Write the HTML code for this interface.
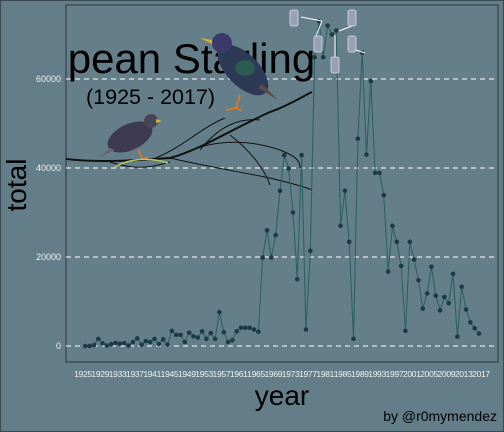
<!DOCTYPE html>
<html><head><meta charset="utf-8"><style>
html,body{margin:0;padding:0;background:#637e89;}
svg{display:block;font-family:"Liberation Sans",sans-serif;}
</style></head><body>
<svg id="chart" width="504" height="432" viewBox="0 0 504 432">
<rect x="0" y="0" width="504" height="432" fill="#637e89" stroke="#3a4a52" stroke-width="2"/>
<defs><clipPath id="pc"><rect x="66" y="5" width="432" height="357"/></clipPath></defs>
<rect x="66" y="5" width="432" height="357" fill="#657f8a" stroke="#2b363c" stroke-width="1"/>
<g id="grid"></g>
<g clip-path="url(#pc)">
  <g fill="none" stroke="#111" stroke-width="1">
    <path d="M66 159 C100 163 140 160 170 158 C200 150 230 130 270 112 C290 105 305 95 312 92" stroke-width="2"/>
    <path d="M150 160 C180 150 200 128 225 118"/>
    <path d="M170 158 C200 165 240 172 270 178 C285 182 300 185 312 190"/>
    <path d="M180 155 C210 140 245 138 280 150 C295 156 300 160 300 168"/>
    <path d="M200 150 C220 125 240 118 260 120"/>
    <path d="M230 135 C250 150 265 170 270 185"/>
    <path d="M110 162 C135 170 150 168 170 162"/>
  </g>
  <path d="M115 167 C130 158 150 157 168 163" stroke="#b8c860" stroke-width="1.5" fill="none"/>
  <g>
    <ellipse cx="130" cy="137" rx="24" ry="13" fill="#3d3a52" transform="rotate(-25 130 137)"/>
    <path d="M110 148 L98 158 L115 150 Z" fill="#6a6470"/>
    <circle cx="151" cy="121" r="7" fill="#4a4458"/>
    <path d="M156 119 L162 121 L156 123 Z" fill="#e0b020"/>
    <path d="M138 150 L142 158 L148 158" stroke="#e07820" stroke-width="1.5" fill="none"/>
  </g>
  <text x="-21" y="73" font-size="42" fill="#000">European Starling</text>
  <text x="86" y="104" font-size="21.5" fill="#000">(1925 - 2017)</text>
  <g>
    <ellipse cx="243" cy="70" rx="32" ry="16" fill="#2e3a55" transform="rotate(45 243 70)"/>
    <path d="M258 88 L278 100 L262 84 Z" fill="#5a4a48"/>
    <circle cx="222" cy="43" r="10" fill="#3c3a6a"/>
    <path d="M212 40 L200 38 L212 44 Z" fill="#e0b020"/>
    <path d="M240 95 L236 108 L226 110 M236 108 L242 111" stroke="#e07820" stroke-width="1.8" fill="none"/>
    <ellipse cx="245" cy="68" rx="10" ry="8" fill="#2f6a50" opacity="0.7"/>
  </g>
</g>
<g id="series"></g>
<g fill="#9aa1b6" stroke="#d8dce6" stroke-width="0.8">
  <line x1="301" y1="17" x2="322" y2="21" stroke="#fff" stroke-width="1"/>
  <rect x="290" y="10" width="8" height="16" rx="2"/>
  <line x1="322" y1="21" x2="316" y2="36" stroke="#fff" stroke-width="1"/>
  <rect x="314" y="36" width="8" height="16" rx="2"/>
  <line x1="335" y1="35" x2="335" y2="57" stroke="#fff" stroke-width="1"/>
  <rect x="331" y="57" width="8" height="16" rx="2"/>
  <line x1="339" y1="31" x2="352" y2="26" stroke="#fff" stroke-width="1"/>
  <rect x="348" y="10" width="8" height="16" rx="2"/>
  <line x1="356" y1="50" x2="365" y2="53" stroke="#fff" stroke-width="1"/>
  <rect x="348" y="36" width="8" height="16" rx="2"/>
</g>
<g id="axes"></g>
<text x="282" y="405" font-size="28" text-anchor="middle" fill="#000">year</text>
<text transform="translate(26 185) rotate(-90)" font-size="28" text-anchor="middle" fill="#000">total</text>
<text x="497" y="421" font-size="14" text-anchor="end" fill="#000">by @r0mymendez</text>
</svg>
<script>
const years = [];
for (let y = 1926; y <= 2017; y++) years.push(y);
const totals = [0,0,200,1600,600,100,400,700,500,650,100,900,1700,300,1100,900,1600,450,1500,300,
3400,2500,2500,900,3000,2200,1900,3300,1600,2900,1600,7600,3100,900,1300,3300,4100,4100,4100,3700,3200,
19900,26000,19900,24900,34900,42900,39900,30000,15000,42900,3700,21400,64900,73000,64900,72000,70000,70900,
27000,34900,23400,1600,46600,65900,43000,59500,38900,38900,33900,16700,27000,23400,18000,3400,23400,19400,
14800,8400,11800,17800,11300,8000,11000,9600,16200,2100,13300,8200,5300,4000,2800];
const yTicks = [0,20000,40000,60000];
const yTickLabels = ["0","20000","40000","60000"];
const xTicks = [];
for (let t = 1925; t <= 2017; t += 4) xTicks.push(t);

const NS = "http://www.w3.org/2000/svg";
const xS = yr => 85.3 + (yr - 1926) * (479 - 85.3) / (2017 - 1926);
const yS = v => 346 - v * 89 / 20000;
function mk(tag, attrs, parent) {
  const e = document.createElementNS(NS, tag);
  for (const k in attrs) e.setAttribute(k, attrs[k]);
  parent.appendChild(e);
  return e;
}
const grid = document.getElementById('grid');
const axes = document.getElementById('axes');
const series = document.getElementById('series');
yTicks.forEach((t, i) => {
  const g = mk('line', {x1: 66, x2: 498, y1: yS(t), y2: yS(t), stroke: '#fff', 'stroke-width': 1, 'stroke-dasharray': '5,4'}, grid);
  
  
  const l = mk('text', {x: 61, y: yS(t) + 3, 'font-size': 9, 'text-anchor': 'end', fill: '#f0f0f0'}, axes);
  l.textContent = yTickLabels[i];
  
  
});
xTicks.forEach(t => {
  const l = mk('text', {x: xS(t) + 2, y: 377, 'font-size': 8.5, 'text-anchor': 'middle', fill: '#f0f0f0', 'letter-spacing': '-0.3'}, axes);
  l.textContent = t;
  
  
});
const pts = years.map((y, i) => xS(y).toFixed(1) + ',' + yS(totals[i]).toFixed(1)).join(' ');
const line = mk('polyline', {points: pts, fill: 'none', stroke: '#2b6262', 'stroke-width': 1.1}, series);


years.forEach((y, i) => {
  const c = mk('circle', {cx: xS(y), cy: yS(totals[i]), r: 2.3, fill: '#1c3a48'}, series);
  
  
});
</script>
</body></html>
